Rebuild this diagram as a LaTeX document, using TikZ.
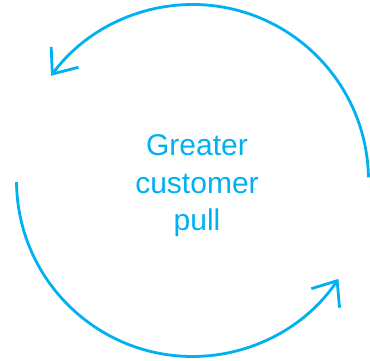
\documentclass[tikz,border=0pt]{standalone}
\usepackage{fontspec}
\setmainfont{Liberation Sans}
\usetikzlibrary{arrows.meta}
\definecolor{pullblue}{HTML}{00B0F0}
\begin{document}
\begin{tikzpicture}[x=1pt,y=1pt]
  \tikzstyle{loop arc}=[draw=pullblue, line width=2.8pt, -{Straight Barb[length=21pt,width=34pt]}]
  \tikzstyle{loop label}=[text=pullblue, font=\fontsize{30}{37.5}\selectfont, align=center]
  \useasboundingbox (0,0) rectangle (370,361);
  \coordinate (c) at (192.5,180.5);
  \path (c) ++(1:176) coordinate (top start);
  \path (c) ++(180.5:176) coordinate (bottom start);
  \node[loop label] (pull) at (197,175) {Greater\\customer\\pull};
  \draw[loop arc] (top start) arc[start angle=1, end angle=143.5, radius=176];
  \draw[loop arc] (bottom start) arc[start angle=180.5, end angle=326, radius=176];
\end{tikzpicture}
\end{document}
